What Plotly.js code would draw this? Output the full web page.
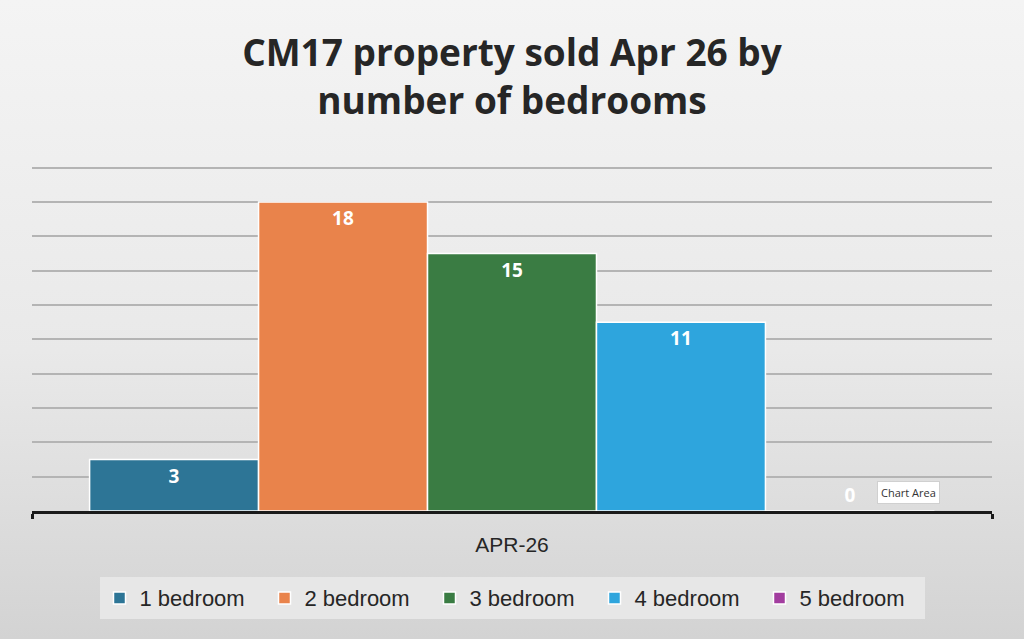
<!DOCTYPE html>
<html>
<head>
<meta charset="utf-8">
<script src="https://cdn.plot.ly/plotly-3.0.1.min.js"></script>
<style>
  html, body { margin: 0; padding: 0; }
  #chart {
    width: 1024px; height: 639px;
    background: linear-gradient(to bottom, #f4f4f4 0%, #e9e9e9 55%, #d3d3d3 100%);
  }
</style>
</head>
<body>
<div id="chart"></div>
<script>
// data
const months = ["APR-26"];
const seriesNames = ["1 bedroom", "2 bedroom", "3 bedroom", "4 bedroom", "5 bedroom"];
const sold = [3, 18, 15, 11, 0];
const colours = ["#2d7596", "#e9834b", "#3a7c43", "#2ea5dd", "#a23d9f"];

const CHART = document.getElementById("chart");

const traces = seriesNames.map((name, i) => ({
  type: "bar",
  name: name,
  x: months,
  y: [sold[i]],
  text: [String(sold[i])],
  // zero bar cannot hold its label inside, so it sits just above the axis
  textposition: sold[i] > 0 ? "inside" : "outside",
  insidetextanchor: "end",
  constraintext: "none",
  cliponaxis: false,
  textfont: { family: "Open Sans", size: 19, weight: 700, color: "#ffffff" },
  marker: { color: colours[i], line: { color: "#ffffff", width: 1.5 } },
  hoverinfo: "skip"
}));

const layout = {
  width: 1024,
  height: 639,
  paper_bgcolor: "rgba(0,0,0,0)",
  plot_bgcolor: "rgba(0,0,0,0)",
  margin: { l: 32, r: 32, t: 166, b: 128 },
  barmode: "group",
  bargap: 0.12,
  bargroupgap: 0,
  title: {
    text: "CM17 property sold Apr 26 by<br>number of bedrooms",
    font: { family: "Open Sans", size: 37, weight: 700, color: "#262626" },
    x: 0.5, xanchor: "center",
    y: 0.897, yanchor: "middle", yref: "container"
  },
  xaxis: {
    type: "category",
    showline: true, linecolor: "#1a1a1a", linewidth: 3,
    ticks: "outside", tickson: "boundaries", ticklen: 5, tickwidth: 3, tickcolor: "#1a1a1a",
    ticklabelstandoff: 13,
    tickfont: { family: "Liberation Sans", size: 21, color: "#262626" },
    showgrid: false, zeroline: false
  },
  yaxis: {
    range: [0, 20.1], dtick: 2,
    showticklabels: false, ticks: "",
    showgrid: true, gridcolor: "#b4b4b4", gridwidth: 1.5,
    zeroline: false, showline: false
  },
  showlegend: true,
  legend: {
    orientation: "h",
    xref: "container", yref: "container",
    x: 0.5, xanchor: "center",
    y: 0.064, yanchor: "middle",
    entrywidth: 120,
    bgcolor: "#e7e7e7",
    font: { family: "Liberation Sans", size: 22, color: "#262626" },
    traceorder: "normal"
  },
  annotations: [{
    text: "Chart Area",
    xref: "paper", yref: "paper",
    x: 0.913, y: 0.055, xanchor: "center", yanchor: "middle",
    showarrow: false,
    bgcolor: "#ffffff", bordercolor: "#d0d0d0", borderwidth: 1, borderpad: 3,
    font: { family: "Open Sans", size: 11, color: "#333333" }
  }]
};

Plotly.newPlot(CHART, traces, layout, { displayModeBar: false, responsive: false });
</script>
</body>
</html>
